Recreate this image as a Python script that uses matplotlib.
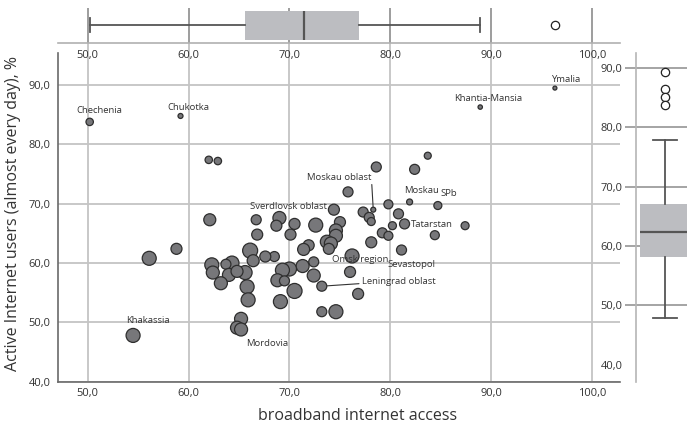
import matplotlib
matplotlib.use("Agg")
import matplotlib.pyplot as plt

plt.rcParams['font.family'] = ['Open Sans', 'DejaVu Sans']

# regions: broadband access %, active internet users %, bubble radius (px)
broadband = [50.2, 59.2, 62.0, 62.9, 62.1, 96.3, 88.9, 83.7, 82.4, 78.6,
             81.9, 84.7, 87.4, 81.4, 80.8, 79.8, 78.3, 77.3, 77.9, 78.1,
             80.2, 79.2, 79.8, 84.4, 78.1, 81.1, 76.2, 76.0, 76.8, 75.8,
             66.7, 69.0, 68.7, 70.5, 72.6, 74.4, 75.0, 74.6, 74.6, 66.8,
             70.1, 73.7, 74.1, 73.9, 71.9, 71.4, 73.2, 72.4, 72.4, 71.3,
             70.5, 70.0, 69.3, 68.8, 69.5, 69.1, 73.2, 74.6, 68.5, 67.6,
             66.1, 66.4, 65.8, 65.9, 65.6, 62.3, 62.4, 64.3, 63.7, 64.0,
             63.2, 64.8, 65.2, 64.8, 65.2, 58.8, 56.1, 54.5]
active_users = [83.8, 84.8, 77.4, 77.2, 67.3, 89.5, 86.3, 78.1, 75.8, 76.2,
                70.3, 69.7, 66.3, 66.6, 68.3, 69.9, 69.0, 68.6, 67.7, 67.0,
                66.3, 65.1, 64.6, 64.7, 63.5, 62.2, 61.2, 58.5, 54.8, 72.0,
                67.3, 67.6, 66.3, 66.6, 66.4, 69.0, 66.9, 65.5, 64.6, 64.8,
                64.8, 63.6, 63.3, 62.4, 63.0, 62.3, 56.1, 60.2, 57.9, 59.5,
                55.3, 59.0, 58.8, 57.1, 57.0, 53.5, 51.8, 51.8, 61.1, 61.1,
                62.1, 60.4, 56.0, 53.8, 58.4, 59.7, 58.4, 60.0, 59.8, 58.0,
                56.6, 58.6, 50.6, 49.1, 48.8, 62.4, 60.8, 47.8]
bubble = [3.7, 2.5, 3.7, 3.7, 6.0, 2.0, 2.2, 3.5, 5.0, 5.0,
          3.0, 4.0, 4.0, 5.0, 5.0, 4.5, 2.5, 5.0, 5.0, 4.0,
          4.0, 5.0, 4.5, 4.5, 5.5, 5.0, 7.0, 5.5, 5.5, 5.0,
          5.0, 6.5, 5.5, 5.5, 7.0, 5.5, 5.5, 6.5, 6.5, 5.5,
          5.5, 6.5, 6.5, 5.5, 5.5, 6.0, 5.0, 5.0, 6.5, 6.5,
          7.5, 7.0, 7.0, 6.5, 5.0, 7.0, 5.0, 7.0, 5.0, 5.5,
          7.5, 6.0, 7.0, 7.0, 7.0, 7.0, 6.5, 7.0, 5.0, 6.5,
          6.5, 6.0, 6.5, 6.5, 6.5, 5.5, 7.0, 7.0]

# region names: (point index, name, text x, text y)
region_labels = [
    (0, "Chechenia", 48.91, 85.70),
    (1, "Chukotka", 57.93, 86.21),
    (5, "Ymalia", 95.91, 91.0),
    (6, "Khantia-Mansia", 86.30, 87.79),
    (10, "Moskau", 81.35, 72.21),
    (11, "SPb", 84.98, 71.77),
    (13, "Tatarstan", 82.01, 66.43),
    (25, "Sevastopol", 79.73, 59.68),
    (26, "Omsk region", 74.18, 60.52),
    (35, "Sverdlovsk oblast", 66.09, 69.51),
    (74, "Mordovia", 65.69, 46.48),
    (77, "Khakassia", 53.80, 50.29),
]
# names joined to their point by a line: (index, name, text x, text y, line start on text)
leader_labels = [
    (16, "Moskau oblast", 71.76, 74.47, (1.0, 0.0)),
    (46, "Leningrad oblast", 77.16, 56.86, (0.0, 0.3)),
]

# box plot summaries: whisker low, q1, median, q3, whisker high, outliers
broadband_box = [50.2, 65.6, 71.4, 76.9, 88.9]
broadband_out = [96.3]
users_box = [47.9, 58.1, 62.3, 67.1, 77.9]
users_out = [89.3, 86.4, 85.1, 83.7]

ticks = [40, 50, 60, 70, 80, 90, 100]


def fmt(v):
    return f"{v:.1f}".replace('.', ',')


W, H = 687, 428
fig = plt.figure(figsize=(W / 100, H / 100), dpi=100)
ax = fig.add_axes([58.3 / W, (H - 381.7) / H, (620 - 58.3) / W, (381.7 - 43) / H])
ax_top = fig.add_axes([58.3 / W, (H - 42.5) / H, (620 - 58.3) / W, (42.5 - 8) / H])
ax_right = fig.add_axes([636 / W, (H - 381.7) / H, (687 - 636) / W, (381.7 - 53) / H])

text_col = '#333333'
box_style = dict(
    patch_artist=True,
    boxprops=dict(facecolor='#bcbdc1', edgecolor='none'),
    medianprops=dict(color='#555555', linewidth=1.6),
    whiskerprops=dict(color='#555555', linewidth=1.3),
    capprops=dict(color='#555555', linewidth=1.3),
    flierprops=dict(marker='o', markerfacecolor='white', markeredgecolor='#222222',
                    markersize=6, markeredgewidth=0.9),
)

# main scatter
sizes = [(2 * r * 0.72) ** 2 for r in bubble]
ax.scatter(broadband, active_users, s=sizes, facecolor='#77777a',
           edgecolor='#2e2e2e', linewidth=0.9, zorder=3)
ax.set_xlim(47.09, 102.75)
ax.set_ylim(40, 97.1)
ax.set_axisbelow(True)
ax.grid(True, color='#c4c4c4', linewidth=1.3)
ax.set_xticks(ticks[1:])
ax.set_xticklabels([fmt(t) for t in ticks[1:]])
ax.set_yticks(ticks[:-1])
ax.set_yticklabels([fmt(t) for t in ticks[:-1]])
ax.tick_params(length=0, labelsize=8, labelcolor=text_col)
ax.tick_params(axis='x', pad=4.5)
ax.tick_params(axis='y', pad=5.5)
for side in ['top', 'right']:
    ax.spines[side].set_visible(False)
for side in ['left', 'bottom']:
    ax.spines[side].set_color('#6a6a6a')
    ax.spines[side].set_linewidth(1.2)
ax.spines['left'].set_bounds(40, 95.4)

ax.set_xlabel('broadband internet access', fontsize=11.5, color=text_col)
ax.set_ylabel('Active Internet users (almost every day), %', fontsize=11.5, color=text_col)
ax.xaxis.set_label_coords(0.532, -0.078)
ax.yaxis.set_label_coords(-0.066, 0.498)

for i, name, tx, ty in region_labels:
    ax.text(tx, ty, name, fontsize=6.8, color=text_col, va='center', ha='left', zorder=4)
for i, name, tx, ty, rel in leader_labels:
    ax.annotate(name, xy=(broadband[i], active_users[i]), xytext=(tx, ty),
                fontsize=6.8, color=text_col, va='center', ha='left', zorder=4,
                arrowprops=dict(arrowstyle='-', color='#333333', linewidth=0.8,
                                relpos=rel, shrinkA=0, shrinkB=bubble[i] * 0.72))

# box plot of broadband access along the top
top_stats = [dict(whislo=broadband_box[0], q1=broadband_box[1], med=broadband_box[2],
                  q3=broadband_box[3], whishi=broadband_box[4], fliers=broadband_out)]
ax_top.bxp(top_stats, positions=[0.5], widths=0.84, capwidths=0.4,
           orientation='horizontal', **box_style)
ax_top.set_xlim(47.09, 102.75)
ax_top.set_ylim(0, 1)
ax_top.set_axisbelow(True)
ax_top.grid(True, axis='x', color='#8c8c8c', linewidth=1.2)
ax_top.set_xticks(ticks[1:])
ax_top.set_xticklabels([fmt(t) for t in ticks[1:]])
ax_top.set_yticks([])
ax_top.tick_params(axis='x', length=0, pad=5.4, labelsize=8, labelcolor=text_col)
for side in ['top', 'left', 'right']:
    ax_top.spines[side].set_visible(False)
ax_top.spines['bottom'].set_color('#b0b0b0')
ax_top.spines['bottom'].set_linewidth(1.2)

# box plot of active users on the right
right_stats = [dict(whislo=users_box[0], q1=users_box[1], med=users_box[2],
                    q3=users_box[3], whishi=users_box[4], fliers=users_out)]
ax_right.bxp(right_stats, positions=[0.569], widths=0.98, capwidths=0.47,
             orientation='vertical', **box_style)
ax_right.set_xlim(0, 1)
ax_right.set_ylim(37.1, 92.53)
ax_right.set_axisbelow(True)
ax_right.grid(True, axis='y', color='#8c8c8c', linewidth=1.1)
ax_right.set_yticks(ticks[:-1])
ax_right.set_yticklabels([fmt(t) for t in ticks[:-1]])
ax_right.set_xticks([])
ax_right.tick_params(axis='y', length=8, width=1.1, color='#8c8c8c', pad=1.5,
                     labelsize=8, labelcolor=text_col)
# the lowest tick carries only its label
ax_right.get_ygridlines()[0].set_visible(False)
ax_right.yaxis.get_major_ticks()[0].tick1line.set_visible(False)
for side in ['top', 'right', 'bottom']:
    ax_right.spines[side].set_visible(False)
ax_right.spines['left'].set_color('#b5b5b5')
ax_right.spines['left'].set_linewidth(1.2)

fig.savefig('out.png', dpi=100)
